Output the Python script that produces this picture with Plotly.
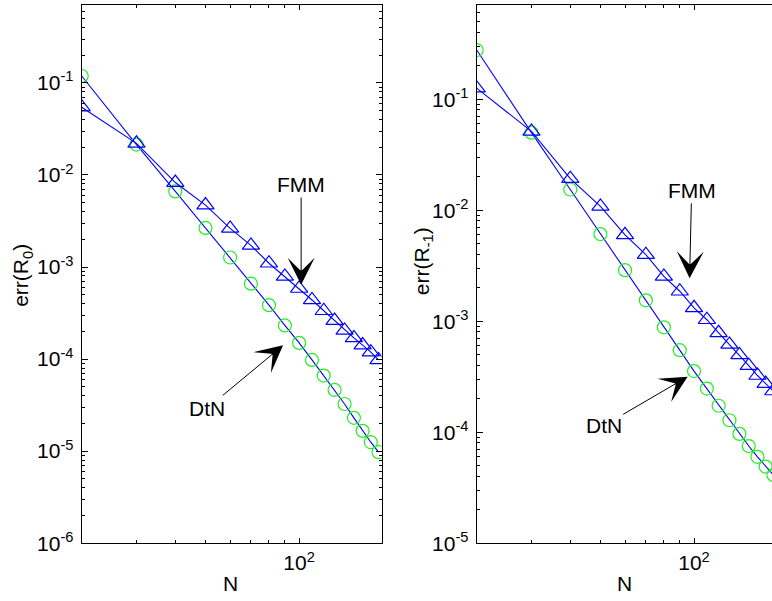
import numpy as np
import plotly.graph_objects as go

# Discretisation sizes
N = [20, 30, 40, 50, 60, 70, 80, 90, 100, 110, 120, 130, 140, 150, 160, 170, 180]

# err(R_0)
dtn_r0 = [1.19e-1, 2.14e-2, 6.64e-3, 2.66e-3, 1.27e-3, 6.6e-4, 3.85e-4, 2.32e-4, 1.50e-4,
          9.8e-5, 6.62e-5, 4.62e-5, 3.25e-5, 2.30e-5, 1.66e-5, 1.25e-5, 9.75e-6]
fmm_r0 = [5.45e-2, 2.21e-2, 8.28e-3, 4.71e-3, 2.63e-3, 1.72e-3, 1.10e-3, 7.9e-4, 5.85e-4,
          4.39e-4, 3.35e-4, 2.62e-4, 2.05e-4, 1.70e-4, 1.42e-4, 1.19e-4, 9.8e-5]

# err(R_-1)
dtn_rm1 = [2.77e-1, 4.99e-2, 1.535e-2, 6.09e-3, 2.88e-3, 1.54e-3, 8.8e-4, 5.48e-4, 3.55e-4,
           2.47e-4, 1.73e-4, 1.28e-4, 9.65e-5, 7.5e-5, 6.0e-5, 4.9e-5, 4.12e-5]
fmm_rm1 = [1.256e-1, 5.12e-2, 1.92e-2, 1.08e-2, 6.0e-3, 3.97e-3, 2.53e-3, 1.86e-3, 1.32e-3,
           1.03e-3, 7.85e-4, 6.18e-4, 4.97e-4, 3.97e-4, 3.24e-4, 2.74e-4, 2.35e-4]

x_major = [100]
x_major_text = ["10<sup>2</sup>"]
x_minor = [30, 40, 50, 60, 70, 80, 90]

W, H = 772, 601
FONT = "Liberation Sans, Arial, Helvetica, sans-serif"
FS = 21
BLUE = "#0000ff"
GREEN = "#22ee22"


def decade_ticks(lo, hi):
    vals = [10.0 ** e for e in range(lo, hi + 1)]
    text = ["10<sup>-%d</sup>" % (-e) for e in range(lo, hi + 1)]
    minor = [k * 10.0 ** e for e in range(lo, hi + 1) for k in range(2, 10)]
    return vals, text, minor


fig = go.Figure()


def add_panel(xa, ya, dtn, fmm):
    fig.add_trace(go.Scatter(
        x=N, y=dtn, xaxis=xa, yaxis=ya, mode="lines+markers",
        line=dict(color=BLUE, width=1.1),
        marker=dict(symbol="circle-open", size=13, color=GREEN, line=dict(width=1.2, color=GREEN)),
        showlegend=False, name="DtN"))
    fig.add_trace(go.Scatter(
        x=N, y=fmm, xaxis=xa, yaxis=ya, mode="lines+markers",
        line=dict(color=BLUE, width=1.1),
        marker=dict(symbol="triangle-up-open", size=15, color=BLUE, line=dict(width=1.2, color=BLUE)),
        showlegend=False, name="FMM"))


add_panel("x", "y", dtn_r0, fmm_r0)
add_panel("x2", "y2", dtn_rm1, fmm_rm1)

top_px, bot_px = 5.0, 553.3
ydom = [1 - bot_px / H, 1 - top_px / H]

axis_common = dict(
    type="log", showgrid=False, zeroline=False, showline=True, linecolor="black",
    linewidth=1, mirror="ticks", ticks="inside", tickcolor="black", tickwidth=1,
    tickfont=dict(family=FONT, size=FS, color="black"),
)


def minor_ticks(vals):
    return dict(tickmode="array", tickvals=vals, ticks="inside", ticklen=3,
                tickcolor="black", tickwidth=1, showgrid=False)


xa_common = dict(axis_common, ticklen=5, tickmode="array", tickvals=x_major,
                 ticktext=x_major_text, ticklabelstandoff=1, minor=minor_ticks(x_minor))

yv1, yt1, ym1 = decade_ticks(-6, -1)
yv2, yt2, ym2 = decade_ticks(-5, -1)
x2_range = [np.log10(20), np.log10(20) + (772 - 476.7) / 310.9]

fig.update_layout(
    width=W, height=H, margin=dict(l=0, r=0, t=0, b=0),
    paper_bgcolor="white", plot_bgcolor="white",
    font=dict(family=FONT, size=FS, color="black"),
    xaxis=dict(xa_common, domain=[81.7 / W, 381.5 / W],
               range=[np.log10(20), np.log10(184)], anchor="y"),
    yaxis=dict(axis_common, domain=ydom, range=[-6, -0.152], anchor="x",
               ticklen=6, tickmode="array", tickvals=yv1, ticktext=yt1,
               ticklabelstandoff=3, minor=minor_ticks(ym1)),
    xaxis2=dict(xa_common, domain=[476.7 / W, 1.0], range=x2_range, anchor="y2"),
    # left spine + labels of the right panel; its right side runs off the page
    yaxis2=dict(axis_common, domain=ydom, range=[-5, -0.151], anchor="x2", mirror=False,
                ticklen=6, tickmode="array", tickvals=yv2, ticktext=yt2,
                ticklabelstandoff=3, minor=minor_ticks(ym2)),
    # inward ticks along the right edge of the right panel (no spine)
    yaxis3=dict(type="log", overlaying="y2", side="right", anchor="x2", range=[-5, -0.151],
                showline=False, showgrid=False, zeroline=False, showticklabels=False,
                ticks="inside", ticklen=6, tickcolor="black", tickwidth=1,
                tickmode="array", tickvals=yv2, minor=minor_ticks(ym2)),
)

arrow = dict(showarrow=True, arrowhead=3, arrowsize=4.5, arrowwidth=1,
             arrowcolor="black", font=dict(family=FONT, size=FS, color="black"))

annotations = [
    # left panel labels with arrows
    dict(arrow, text="FMM", x=np.log10(101.5), y=np.log10(6.44e-4), xref="x", yref="y",
         ax=0, ay=-100),
    dict(arrow, text="DtN", x=np.log10(88.8), y=np.log10(1.41e-4), xref="x", yref="y",
         ax=-76, ay=63),
    # right panel labels with arrows
    dict(arrow, text="FMM", x=np.log10(96.8), y=np.log10(2.43e-3), xref="x2", yref="y2",
         ax=2, ay=-88),
    dict(arrow, text="DtN", x=np.log10(95.4), y=np.log10(3.16e-4), xref="x2", yref="y2",
         ax=-84, ay=49),
    # axis titles
    dict(text="err(R<sub>0</sub>)", textangle=-90, showarrow=False, xref="paper", yref="paper",
         x=22 / W, y=1 - 281 / H, xanchor="center", yanchor="middle",
         font=dict(family=FONT, size=FS, color="black")),
    dict(text="err(R<sub>-1</sub>)", textangle=-90, showarrow=False, xref="paper", yref="paper",
         x=423 / W, y=1 - 266 / H, xanchor="center", yanchor="middle",
         font=dict(family=FONT, size=FS, color="black")),
    dict(text="N", showarrow=False, xref="paper", yref="paper",
         x=230.5 / W, y=1 - 594 / H, xanchor="center", yanchor="middle",
         font=dict(family=FONT, size=FS, color="black")),
    dict(text="N", showarrow=False, xref="paper", yref="paper",
         x=624 / W, y=1 - 594 / H, xanchor="center", yanchor="middle",
         font=dict(family=FONT, size=FS, color="black")),
]
fig.update_layout(annotations=annotations)

fig.write_html("out.html")
